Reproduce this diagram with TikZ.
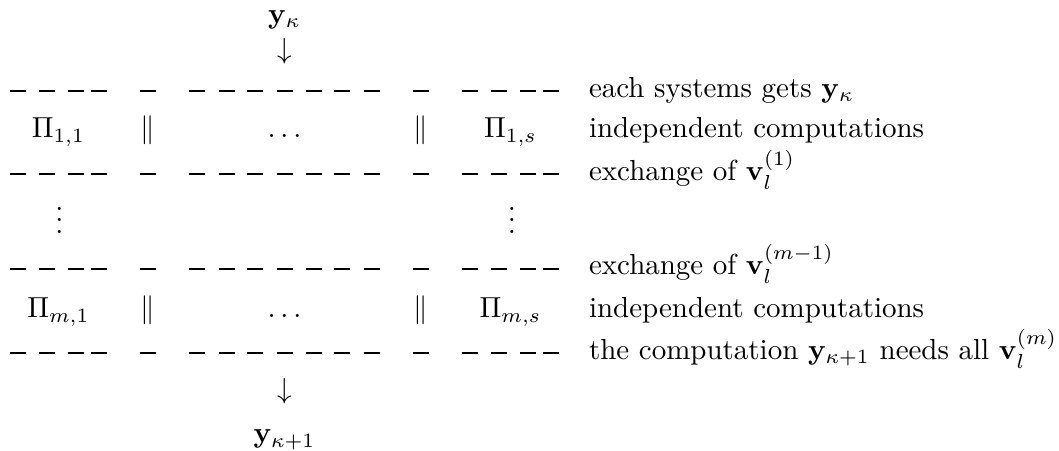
\documentclass[tikz,border=0pt]{standalone}
\begin{document}
\begin{tikzpicture}[x=0.345pt, y=-0.345pt,
  lbl/.style={inner sep=0pt, outer sep=0pt, anchor=base},
  txt/.style={inner sep=0pt, outer sep=0pt, anchor=base west},
  dashseg/.style={line width=0.69pt, black}]
\useasboundingbox (0,0) rectangle (1059,451);

% input and output
\node[lbl] (yin) at (284.5,23.3) {$\mathbf{y}_\kappa$};
\node[lbl] (arin) at (284.5,58.4) {$\downarrow$};
\node[lbl] (arout) at (284.5,398.4) {$\downarrow$};
\node[lbl] (yout) at (284.5,442.7) {$\mathbf{y}_{\kappa+1}$};

% dashed rows
\foreach \yy in {90.7,174,269,352.7}{
  \foreach \xx in {10,39,68,91,140,189,219,247,277,306,334,364,413,462,491,520,543}{
    \draw[dashseg] (\xx,\yy) -- ++(16,0);
  }
}

% first computation row
\node[lbl] (p11) at (58.5,138) {$\Pi_{1,1}$};
\node[lbl] (pa1) at (148,138) {$\|$};
\node[lbl] (d1) at (284.5,138) {$\ldots$};
\node[lbl] (pb1) at (421,138) {$\|$};
\node[lbl] (p1s) at (510.5,138) {$\Pi_{1,s}$};

% vertical dots
\node[lbl] (vl) at (59.3,233.3) {$\vdots$};
\node[lbl] (vr) at (512,233.3) {$\vdots$};

% m-th computation row
\node[lbl] (pm1) at (58.5,318) {$\Pi_{m,1}$};
\node[lbl] (pa2) at (148,318) {$\|$};
\node[lbl] (d2) at (284.5,318) {$\ldots$};
\node[lbl] (pb2) at (421,318) {$\|$};
\node[lbl] (pms) at (510.5,318) {$\Pi_{m,s}$};

% descriptions
\node[txt] (t1) at (589,97.5) {each systems gets $\mathbf{y}_\kappa$};
\node[txt] (t2) at (589,138) {independent computations};
\node[txt] (t3) at (589,180.7) {exchange of $\mathbf{v}_l^{(1)}$};
\node[txt] (t4) at (589,275) {exchange of $\mathbf{v}_l^{(m-1)}$};
\node[txt] (t5) at (589,318) {independent computations};
\node[txt] (t6) at (589,359.5) {the computation $\mathbf{y}_{\kappa+1}$ needs all $\mathbf{v}_l^{(m)}$};
\end{tikzpicture}
\end{document}
